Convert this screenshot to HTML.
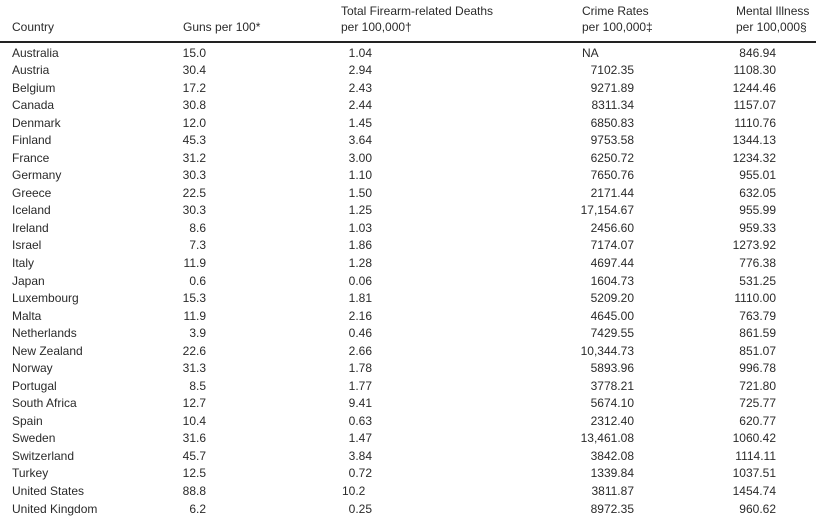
<!DOCTYPE html>
<html><head><meta charset="utf-8"><style>
body{margin:0;width:834px;height:518px;background:#fff;position:relative;overflow:hidden;font-family:"Liberation Sans",sans-serif;font-size:12px;color:#2a2a2a}
.t{position:absolute;white-space:nowrap;line-height:14px}
.r{text-align:right}
.rule{position:absolute;left:0;top:41px;width:816px;height:2px;background:#222}
</style></head><body>
<div class="t" style="left:12px;top:20px">Country</div>
<div class="t" style="left:183px;top:20px">Guns per 100*</div>
<div class="t" style="left:341px;top:4px">Total Firearm-related Deaths</div>
<div class="t" style="left:341px;top:20px">per 100,000†</div>
<div class="t" style="left:582px;top:4px">Crime Rates</div>
<div class="t" style="left:582px;top:20px">per 100,000‡</div>
<div class="t" style="left:736px;top:4px">Mental Illness</div>
<div class="t" style="left:736px;top:20px">per 100,000§</div>
<div class="rule"></div>
<div id="rows"></div>
<script>
var d=[["Australia","15.0","1.04","NA","846.94"],["Austria","30.4","2.94","7102.35","1108.30"],["Belgium","17.2","2.43","9271.89","1244.46"],["Canada","30.8","2.44","8311.34","1157.07"],["Denmark","12.0","1.45","6850.83","1110.76"],["Finland","45.3","3.64","9753.58","1344.13"],["France","31.2","3.00","6250.72","1234.32"],["Germany","30.3","1.10","7650.76","955.01"],["Greece","22.5","1.50","2171.44","632.05"],["Iceland","30.3","1.25","17,154.67","955.99"],["Ireland","8.6","1.03","2456.60","959.33"],["Israel","7.3","1.86","7174.07","1273.92"],["Italy","11.9","1.28","4697.44","776.38"],["Japan","0.6","0.06","1604.73","531.25"],["Luxembourg","15.3","1.81","5209.20","1110.00"],["Malta","11.9","2.16","4645.00","763.79"],["Netherlands","3.9","0.46","7429.55","861.59"],["New Zealand","22.6","2.66","10,344.73","851.07"],["Norway","31.3","1.78","5893.96","996.78"],["Portugal","8.5","1.77","3778.21","721.80"],["South Africa","12.7","9.41","5674.10","725.77"],["Spain","10.4","0.63","2312.40","620.77"],["Sweden","31.6","1.47","13,461.08","1060.42"],["Switzerland","45.7","3.84","3842.08","1114.11"],["Turkey","12.5","0.72","1339.84","1037.51"],["United States","88.8","10.2","3811.87","1454.74"],["United Kingdom","6.2","0.25","8972.35","960.62"]];
var h="";
d.forEach(function(r,i){var y=45.5+i*17.54;
h+='<div class="t" style="left:12px;top:'+y+'px">'+r[0]+'</div>';
h+='<div class="t r" style="right:'+(834-206)+'px;top:'+y+'px">'+r[1]+'</div>';
if(r[2]=="10.2")h+='<div class="t" style="left:342px;top:'+y+'px">10.2</div>';
else h+='<div class="t r" style="right:'+(834-372)+'px;top:'+y+'px">'+r[2]+'</div>';
if(r[3]=="NA")h+='<div class="t" style="left:582px;top:'+y+'px">NA</div>';
else h+='<div class="t r" style="right:'+(834-634)+'px;top:'+y+'px">'+r[3]+'</div>';
h+='<div class="t r" style="right:'+(834-776)+'px;top:'+y+'px">'+r[4]+'</div>';
});
document.getElementById("rows").innerHTML=h;
</script>
</body></html>
